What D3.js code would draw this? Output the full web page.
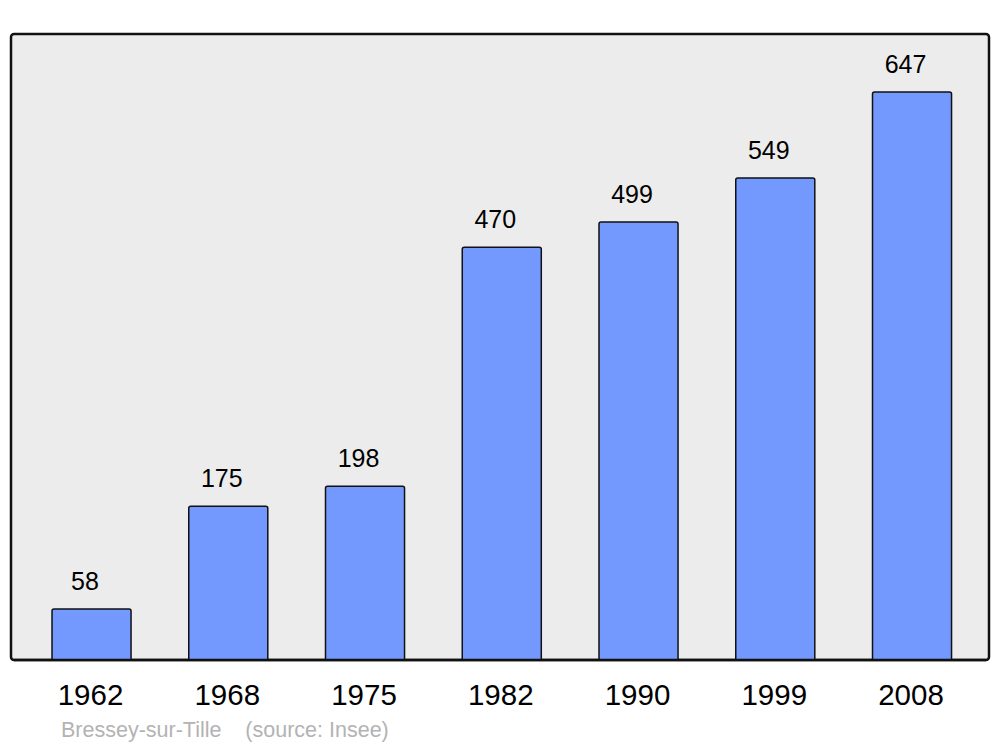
<!DOCTYPE html>
<html><head><meta charset="utf-8">
<script src="https://cdn.jsdelivr.net/npm/d3@7"></script>
<style>body{margin:0;background:#fff}svg{display:block}text{font-family:"Liberation Sans",Arial,sans-serif}</style>
</head><body>
<svg id="c" width="1000" height="747"></svg>
<script>
const years = ["1962","1968","1975","1982","1990","1999","2008"];
const population = [58,175,198,470,499,549,647];
const commune = "Bressey-sur-Tille";
const source = "(source: Insee)";

const svg = d3.select("#c");
const panel = {x0: 11, x1: 989, y0: 34, y1: 660};

svg.append("rect").attr("x", panel.x0).attr("y", panel.y0)
  .attr("width", panel.x1 - panel.x0).attr("height", panel.y1 - panel.y0)
  .attr("rx", 3).attr("fill", "#ececec").attr("stroke", "#111").attr("stroke-width", 2.5);

const x = d3.scaleBand().domain(years).range([23.15, 980.4]).paddingInner(0.422).paddingOuter(0.211);
const y = d3.scaleLinear().domain([0, d3.max(population) * 1.102]).range([panel.y1, panel.y0]);

const data = years.map((yr, i) => ({yr, v: population[i]}));

function barPath(d) {
  const x0 = x(d.yr), w = x.bandwidth(), top = y(d.v), bot = y(0), r = 2;
  return `M${x0},${bot}V${top + r}Q${x0},${top} ${x0 + r},${top}H${x0 + w - r}Q${x0 + w},${top} ${x0 + w},${top + r}V${bot}`;
}

svg.selectAll("path.bar").data(data).enter().append("path").attr("class", "bar")
  .attr("d", barPath).attr("fill", "#7399ff").attr("stroke", "#111").attr("stroke-width", 1.5);

svg.selectAll("text.val").data(data).enter().append("text").attr("class", "val")
  .attr("x", d => x(d.yr) + x.bandwidth() / 2 - 6.5).attr("y", d => y(d.v) - 19)
  .attr("text-anchor", "middle").attr("font-size", 25).attr("fill", "#000")
  .text(d => d.v);

svg.append("line").attr("x1", panel.x0 + 3).attr("x2", panel.x1 - 3).attr("y1", panel.y1).attr("y2", panel.y1)
  .attr("stroke", "#111").attr("stroke-width", 2.5);

svg.selectAll("text.yr").data(years).enter().append("text").attr("class", "yr")
  .attr("x", d => x(d) + x.bandwidth() / 2 - 1).attr("y", 705)
  .attr("text-anchor", "middle").attr("font-size", 29.5).attr("fill", "#000")
  .text(d => d);

svg.append("text").attr("x", 61).attr("y", 737).attr("font-size", 21.5).attr("fill", "#b3b3b3")
  .attr("xml:space", "preserve").style("white-space", "pre")
  .text(commune + "    " + source);
</script>
</body></html>
